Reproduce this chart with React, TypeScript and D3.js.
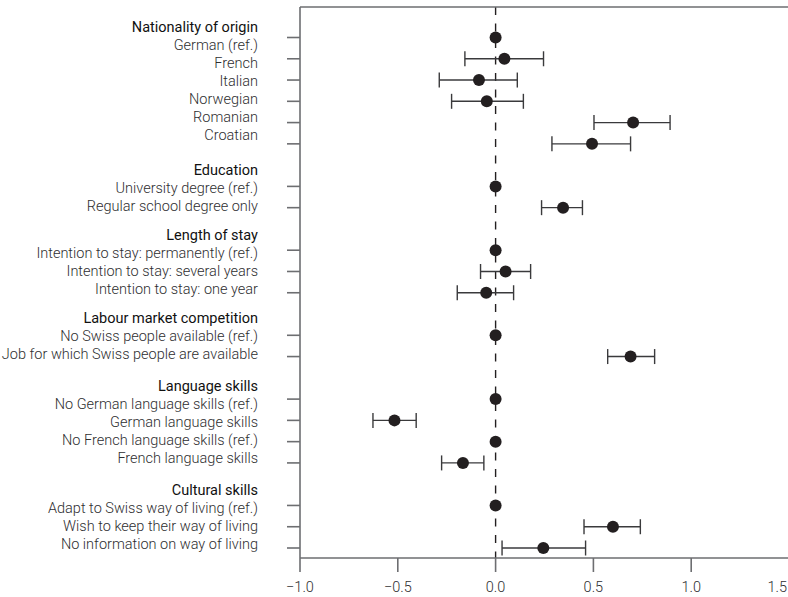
import React from "react";
import * as d3 from "d3";

const groups = [
  "Nationality of origin",
  "Education",
  "Length of stay",
  "Labour market competition",
  "Language skills",
  "Cultural skills",
];

const labels = [
  "German (ref.)",
  "French",
  "Italian",
  "Norwegian",
  "Romanian",
  "Croatian",
  "University degree (ref.)",
  "Regular school degree only",
  "Intention to stay: permanently (ref.)",
  "Intention to stay: several years",
  "Intention to stay: one year",
  "No Swiss people available (ref.)",
  "Job for which Swiss people are available",
  "No German language skills (ref.)",
  "German language skills",
  "No French language skills (ref.)",
  "French language skills",
  "Adapt to Swiss way of living (ref.)",
  "Wish to keep their way of living",
  "No information on way of living",
];

const groupOf = [0, 0, 0, 0, 0, 0, 1, 1, 2, 2, 2, 3, 3, 4, 4, 4, 4, 5, 5, 5];

const estimates = [0, 0.045, -0.085, -0.045, 0.703, 0.493, 0, 0.345, 0, 0.051, -0.048, 0, 0.69, 0, -0.517, 0, -0.167, 0, 0.6, 0.244];
const lower: (number | null)[] = [null, -0.157, -0.288, -0.225, 0.503, 0.288, null, 0.235, null, -0.077, -0.196, null, 0.573, null, -0.627, null, -0.276, null, 0.452, 0.033];
const upper: (number | null)[] = [null, 0.245, 0.111, 0.142, 0.892, 0.69, null, 0.444, null, 0.179, 0.092, null, 0.813, null, -0.406, null, -0.06, null, 0.74, 0.46];

const xTicks = [-1.0, -0.5, 0.0, 0.5, 1.0, 1.5];

const W = 788;
const H = 597;
const FONT = "Roboto, 'Open Sans', sans-serif";

export default function App() {
  // slot index: each group gets a header slot before its items
  const slots: number[] = [];
  let slot = -1;
  labels.forEach((_, i) => {
    if (i > 0 && groupOf[i] !== groupOf[i - 1]) slot += 1; // header gap
    slot += 1;
    slots.push(slot);
  });
  const maxSlot = slots[slots.length - 1];

  const x = d3.scaleLinear().domain([-1, 1.5]).range([300, 789]);
  const y = d3.scaleLinear().domain([0, maxSlot]).range([37.5, 548]);

  const plotTop = 7;
  const plotBottom = 558;
  const axisColor = "#6d6e71";
  const inkColor = "#231f20";
  const barColor = "#3a3a3c";
  const textColor = "#2e2e30";

  const labelX = 258;
  const lineH = 18;
  const headerGap = 18;

  // label layout per group: centred on the group's tick centre
  const labelNodes: React.ReactNode[] = [];
  groups.forEach((g, gi) => {
    const idx = labels.map((_, i) => i).filter((i) => groupOf[i] === gi);
    const ys = idx.map((i) => y(slots[i]));
    const centre = (ys[0] + ys[ys.length - 1]) / 2;
    const first = centre - ((idx.length - 1) * lineH) / 2;
    labelNodes.push(
      <text
        key={"g" + gi}
        x={labelX}
        y={first - headerGap}
        textAnchor="end"
        dominantBaseline="central"
        fontSize={14.5}
        fontWeight={400}
        fill="#111"
      >
        {g}
      </text>
    );
    idx.forEach((i, k) => {
      labelNodes.push(
        <text
          key={"l" + i}
          x={labelX}
          y={first + k * lineH}
          textAnchor="end"
          dominantBaseline="central"
          fontSize={14.5}
          fontWeight={300}
          fill={textColor}
        >
          {labels[i]}
        </text>
      );
    });
  });

  const fmt = (v: number) => (v < 0 ? "\u2212" + Math.abs(v).toFixed(1) : v.toFixed(1));

  return (
    <svg width={W} height={H} style={{ position: "absolute", left: 0, top: 0, fontFamily: FONT, background: "#fff" }}>
      <rect x={0} y={0} width={W} height={H} fill="#fff" />
      {/* zero reference line */}
      <line
        x1={x(0)}
        x2={x(0)}
        y1={plotTop}
        y2={plotBottom}
        stroke={inkColor}
        strokeWidth={1.4}
        strokeDasharray="8,8.5"
      />
      {/* frame */}
      <line x1={x(-1)} x2={x(1.5)} y1={plotTop} y2={plotTop} stroke={axisColor} strokeWidth={1.6} />
      <line x1={x(-1)} x2={x(-1)} y1={plotTop} y2={plotBottom} stroke={axisColor} strokeWidth={1.6} />
      <line x1={x(-1)} x2={x(1.5)} y1={plotBottom} y2={plotBottom} stroke={axisColor} strokeWidth={1.6} />
      <line x1={x(1.5)} x2={x(1.5)} y1={plotTop} y2={plotBottom} stroke={axisColor} strokeWidth={1.6} />
      {/* x ticks */}
      {xTicks.map((t) => {
        const tx = x(t);
        const atEdge = tx + 12 > W;
        return (
          <g key={t}>
            <line x1={tx} x2={tx} y1={plotBottom} y2={plotBottom + 14} stroke={axisColor} strokeWidth={1.6} />
            <text
              x={atEdge ? W - 1 : tx}
              y={plotBottom + 29}
              textAnchor={atEdge ? "end" : "middle"}
              dominantBaseline="central"
              fontSize={14.5}
              fontWeight={300}
              fill={textColor}
            >
              {fmt(t)}
            </text>
          </g>
        );
      })}
      {/* y ticks */}
      {labels.map((l, i) => (
        <line
          key={"yt" + i}
          x1={x(-1) - 13}
          x2={x(-1)}
          y1={y(slots[i])}
          y2={y(slots[i])}
          stroke={axisColor}
          strokeWidth={1.6}
        />
      ))}
      {/* error bars */}
      {labels.map((l, i) => {
        const lo = lower[i];
        const hi = upper[i];
        if (lo === null || hi === null) return null;
        const yy = y(slots[i]);
        return (
          <g key={"eb" + i} stroke={barColor} strokeWidth={1.4}>
            <line x1={x(lo)} x2={x(hi)} y1={yy} y2={yy} />
            <line x1={x(lo)} x2={x(lo)} y1={yy - 7.5} y2={yy + 7.5} />
            <line x1={x(hi)} x2={x(hi)} y1={yy - 7.5} y2={yy + 7.5} />
          </g>
        );
      })}
      {/* points */}
      {labels.map((l, i) => (
        <circle key={"pt" + i} cx={x(estimates[i])} cy={y(slots[i])} r={6} fill={inkColor} />
      ))}
      {labelNodes}
    </svg>
  );
}
